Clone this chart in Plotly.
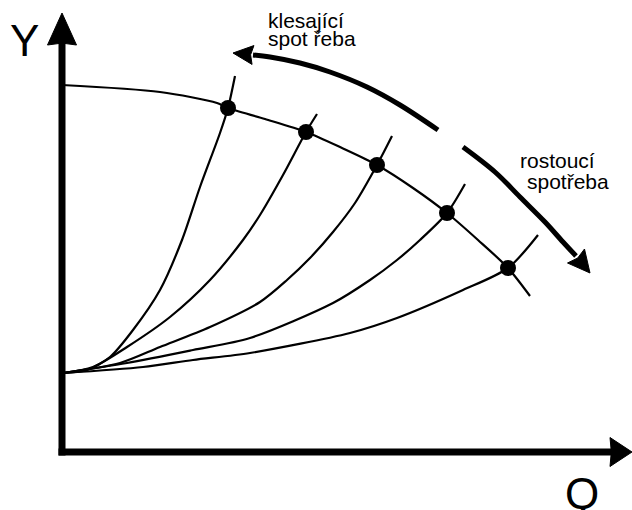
import math
import plotly.graph_objects as go

# ---- data (schematic units: Q to the right, Y upwards) ----
# pump characteristic Y(Q)
pump_q = [0, 98, 155, 166, 203, 244, 280, 315, 351, 385, 416, 446, 468]
pump_y = [367, 360, 349, 344, 333, 320, 304, 287, 264, 239, 212, 184, 156]

# operating points (intersections)
op_q = [166, 244, 315, 385, 446]
op_y = [344, 320, 287, 239, 184]

# system characteristics
sys1_q = [1, 25, 48, 71, 98, 120, 138, 158, 166, 173]
sys1_y = [79, 82, 95, 122, 162, 212, 265, 319, 344, 376]
sys2_q = [1, 31, 65, 108, 148, 181, 198, 221, 244, 255]
sys2_y = [79, 85, 105, 135, 172, 212, 237, 277, 320, 338]
sys3_q = [1, 58, 98, 148, 198, 225, 248, 271, 293, 315, 330]
sys3_y = [79, 89, 105, 125, 150, 172, 194, 220, 249, 287, 316]
sys4_q = [1, 65, 131, 188, 271, 308, 335, 358, 385, 403]
sys4_y = [79, 89, 102, 114, 149, 172, 192, 212, 239, 268]
sys5_q = [1, 81, 131, 188, 288, 335, 401, 446, 476]
sys5_y = [79, 85, 92, 99, 119, 134, 162, 184, 217]

# direction arrows (arc shafts + tips)
dec_q = [376, 338, 305, 268, 238, 208, 191]
dec_y = [322, 347, 365, 380, 389, 395, 397]
dec_tip = (171, 399)
inc_q = [401, 433, 458, 483, 501, 514]
inc_y = [305, 280, 255, 230, 210, 196]
inc_tip = (528, 179)

# axes
y_axis_top = 439
x_axis_end = 570

FONT = "Liberation Sans, Arial, sans-serif"

fig = go.Figure()


def head(tip, base, width, notch=0.0):
    tx, ty = tip
    bx, by = base
    dx, dy = tx - bx, ty - by
    L = math.hypot(dx, dy)
    ux, uy = dx / L, dy / L
    px, py = -uy, ux
    h = width / 2
    nx, ny = bx + ux * notch * L, by + uy * notch * L
    xs = [tx, bx + px * h, nx, bx - px * h, tx]
    ys = [ty, by + py * h, ny, by - py * h, ty]
    fig.add_trace(go.Scatter(x=xs, y=ys, mode="lines", fill="toself",
                             fillcolor="black", line=dict(color="black", width=1),
                             hoverinfo="skip"))


# axes
fig.add_trace(go.Scatter(x=[0, 0], y=[-3.5, y_axis_top - 30], mode="lines",
                         line=dict(color="black", width=7), hoverinfo="skip"))
fig.add_trace(go.Scatter(x=[-3.5, x_axis_end - 20], y=[0, 0], mode="lines",
                         line=dict(color="black", width=7), hoverinfo="skip"))
head((0, y_axis_top), (0, y_axis_top - 32), 29, notch=0.06)
head((x_axis_end, 0), (x_axis_end - 22, 0), 29, notch=0.06)

# system curves
for q, y in [(sys1_q, sys1_y), (sys2_q, sys2_y), (sys3_q, sys3_y),
             (sys4_q, sys4_y), (sys5_q, sys5_y)]:
    fig.add_trace(go.Scatter(x=q, y=y, mode="lines",
                             line=dict(color="black", width=2.2, shape="spline", smoothing=0.8),
                             hoverinfo="skip"))

# pump curve
fig.add_trace(go.Scatter(x=pump_q, y=pump_y, mode="lines",
                         line=dict(color="black", width=2.2, shape="spline", smoothing=0.8),
                         hoverinfo="skip"))

# operating points
fig.add_trace(go.Scatter(x=op_q, y=op_y, mode="markers",
                         marker=dict(color="black", size=16), hoverinfo="skip"))

# direction arrows
fig.add_trace(go.Scatter(x=dec_q, y=dec_y, mode="lines",
                         line=dict(color="black", width=5, shape="spline"), hoverinfo="skip"))
head(dec_tip, (dec_q[-1], dec_y[-1]), 19, notch=0.12)
fig.add_trace(go.Scatter(x=inc_q, y=inc_y, mode="lines",
                         line=dict(color="black", width=5, shape="spline"), hoverinfo="skip"))
head(inc_tip, (inc_q[-1], inc_y[-1]), 22, notch=0.12)


# texts
def label(text, x, y, size, xanchor="left"):
    fig.add_annotation(x=x, y=y, text=text, showarrow=False, xanchor=xanchor,
                       yanchor="middle", borderpad=0,
                       font=dict(family=FONT, size=size, color="black"))


label("Y", -38, 412, 44, "center")
label("Q", 520, -41, 44, "center")
label("klesající", 205, 432, 21)
label("spot řeba", 205, 414, 21)
label("rostoucí", 457, 292, 21)
label("spotřeba", 464, 271, 21)

fig.update_layout(
    width=632, height=510,
    margin=dict(l=0, r=0, t=0, b=0),
    paper_bgcolor="white", plot_bgcolor="white",
    showlegend=False,
    xaxis=dict(visible=False, range=[-62, 570], fixedrange=True),
    yaxis=dict(visible=False, range=[-58, 452], fixedrange=True),
)

fig.write_html("out.html", config={"displayModeBar": False},
               post_script="document.body.style.margin='0';document.body.style.overflow='hidden';")
